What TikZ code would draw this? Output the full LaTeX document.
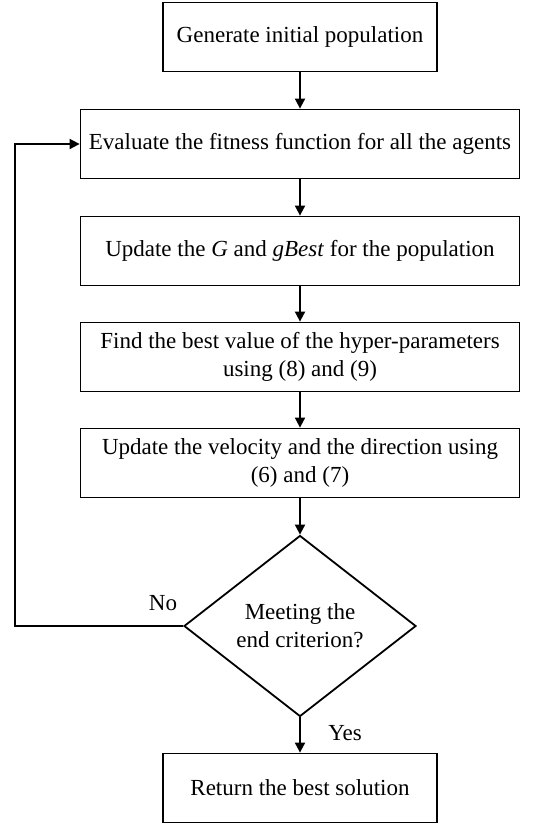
\documentclass[tikz,border=0pt]{standalone}
\usepackage{fontspec}
\setmainfont{Liberation Serif}
\usetikzlibrary{arrows.meta, shapes.geometric}

\begin{document}
\begin{tikzpicture}[x=1pt, y=-1pt,
    stepbox/.style={draw, line width=1.8pt, inner sep=0pt, align=center,
      minimum height=69pt, font=\fontsize{23}{28}\selectfont},
    widebox/.style={stepbox, minimum width=439pt},
    narrowbox/.style={stepbox, minimum width=274pt},
    decision/.style={draw, diamond, line width=1.8pt, inner sep=0pt, align=center,
      minimum width=232pt, minimum height=181pt, aspect=1.28,
      font=\fontsize{23}{28}\selectfont},
    flow/.style={line width=1.8pt, -{Triangle[length=10pt, width=10pt]}},
    answer/.style={font=\fontsize{23}{28}\selectfont}
]
  \useasboundingbox[fill=white] (0,0) rectangle (549,827);

  % Schritte des Algorithmus
  \node[narrowbox] (init) at (300,37) {Generate initial population};
  \node[widebox] (eval) at (300,144) {Evaluate the fitness function for all the agents};
  \node[widebox] (update) at (300,251) {Update the \textit{G} and \textit{gBest} for the population};
  \node[widebox] (hyper) at (300,357) {Find the best value of the hyper-parameters\\using (8) and (9)};
  \node[widebox] (velo) at (300,463) {Update the velocity and the direction using\\(6) and (7)};

  % Abbruchkriterium
  \node[decision] (crit) at (300,626) {Meeting the\\end criterion?};
  \node[narrowbox] (result) at (300,788) {Return the best solution};

  % Verbindungen
  \draw[flow] (init) -- (eval);
  \draw[flow] (eval) -- (update);
  \draw[flow] (update) -- (hyper);
  \draw[flow] (hyper) -- (velo);
  \draw[flow] (velo) -- (crit);
  \draw[flow] (crit) -- (result);

  % Rueckfuehrung
  \coordinate (loop) at (15,626);
  \draw[flow] (crit.west) -- (loop) |- (eval.west);

  % Beschriftungen
  \node[answer] (no) at (163,603) {No};
  \node[answer] (yes) at (345,733) {Yes};
\end{tikzpicture}
\end{document}
